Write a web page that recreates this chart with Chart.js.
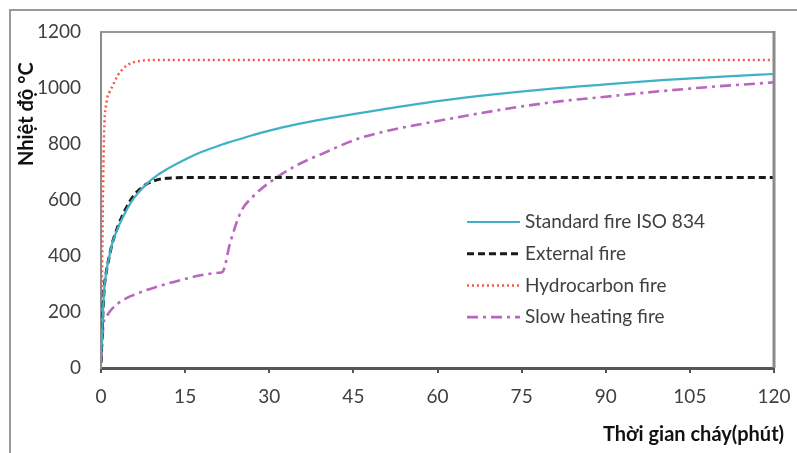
<!DOCTYPE html>
<html>
<head>
<meta charset="utf-8">
<script src="https://cdn.jsdelivr.net/npm/chart.js@4"></script>
<style>
  html, body { margin: 0; padding: 0; background: #fff; overflow: hidden; }
  #wrap { position: relative; width: 797px; height: 453px; overflow: hidden; }
  #frame { position: absolute; left: 9px; top: 9px; width: 820px; height: 480px; border: 2px solid #999; }
  canvas { position: absolute; left: 0; top: 0; }
</style>
</head>
<body>
<div id="wrap">
  <div id="frame"></div>
  <canvas id="chart" width="797" height="453"></canvas>
</div>
<script>
// thời gian (phút) và nhiệt độ
const minutes = [0, 0.5, 1, 1.5, 2, 3, 4, 5, 6, 8, 10, 12, 15, 18, 21, 21.7, 23, 25, 27, 30, 35, 40, 45, 50, 60, 70, 80, 90, 100, 110, 120];
const standardFire = [20, 260, 350, 400, 445, 500, 542, 580, 610, 655, 688, 713, 745, 772, 794, 799, 807, 819, 831, 848, 871, 890, 907, 923, 953, 977, 997, 1013, 1028, 1040, 1050];
const externalFire = [20, 263, 350, 400, 445, 505, 552, 590, 620, 655, 672, 678, 680, 680, 680, 680, 680, 680, 680, 680, 680, 680, 680, 680, 680, 680, 680, 680, 680, 680, 680];
const hydrocarbonFire = [20, 800, 950, 985, 1005, 1045, 1070, 1085, 1093, 1099, 1100, 1100, 1100, 1100, 1100, 1100, 1100, 1100, 1100, 1100, 1100, 1100, 1100, 1100, 1100, 1100, 1100, 1100, 1100, 1100, 1100];
const slowFire = [20, 165, 185, 200, 212, 230, 243, 254, 262, 278, 290, 302, 318, 332, 340, 344, 445, 560, 610, 662, 725, 770, 813, 842, 882, 918, 948, 969, 989, 1006, 1020];

const seriesNames = ['Standard fire ISO 834', 'External fire', 'Hydrocarbon fire', 'Slow heating fire'];
const xTicks = [0, 15, 30, 45, 60, 75, 90, 105, 120];
const yTicks = [0, 200, 400, 600, 800, 1000, 1200];
const yTitle = 'Nhiệt độ °C';
const xTitle = 'Thời gian cháy(phút)';

const FONT = 'Lato, "Open Sans", sans-serif';
const TEXT = '#404040';

const toPoints = arr => arr.map((v, i) => ({ x: minutes[i], y: v }));

const styles = [
  { color: '#3fb0c6', width: 2.2, dash: [] },
  { color: '#1a1a1a', width: 3, dash: [7, 4] },
  { color: '#f25a4a', width: 2.5, dash: [2, 3] },
  { color: '#b866bf', width: 2.6, dash: [11, 5, 3, 5] },
];
const values = [standardFire, externalFire, hydrocarbonFire, slowFire];

// chú thích vẽ bên trong vùng đồ thị + khung trên/phải + tiêu đề trục
const extras = {
  id: 'extras',
  afterDatasetsDraw(chart) {
    const { ctx, chartArea: a } = chart;
    ctx.save();
    // khung trên và phải
    ctx.strokeStyle = '#999';
    ctx.lineWidth = 2;
    ctx.beginPath();
    ctx.moveTo(a.left, a.top);
    ctx.lineTo(a.right, a.top);
    ctx.stroke();
    ctx.strokeStyle = '#8a8a8a';
    ctx.lineWidth = 3;
    ctx.beginPath();
    ctx.moveTo(a.right, a.top - 1);
    ctx.lineTo(a.right, a.bottom);
    ctx.stroke();

    // legend
    chart.data.datasets.forEach((ds, i) => {
      const y = 222 + i * 31.7;
      ctx.strokeStyle = ds.borderColor;
      ctx.lineWidth = ds.borderWidth;
      ctx.setLineDash(ds.borderDash || []);
      ctx.beginPath();
      ctx.moveTo(467, y);
      ctx.lineTo(520, y);
      ctx.stroke();
      ctx.setLineDash([]);
      ctx.fillStyle = TEXT;
      ctx.font = '19px ' + FONT;
      ctx.textAlign = 'left';
      ctx.textBaseline = 'middle';
      ctx.fillText(ds.label, 525, y);
    });

    // tiêu đề trục
    ctx.fillStyle = '#111';
    ctx.font = 'bold 20px ' + FONT;
    ctx.textAlign = 'left';
    ctx.textBaseline = 'middle';
    ctx.fillText(xTitle, 603, 435);
    ctx.translate(27, 166);
    ctx.rotate(-Math.PI / 2);
    ctx.fillText(yTitle, 0, 0);
    ctx.restore();
  }
};

new Chart(document.getElementById('chart'), {
  type: 'line',
  data: {
    datasets: values.map((arr, i) => ({
      label: seriesNames[i],
      data: toPoints(arr),
      borderColor: styles[i].color,
      borderWidth: styles[i].width,
      borderDash: styles[i].dash,
      pointRadius: 0,
      fill: false,
      cubicInterpolationMode: 'monotone',
    })),
  },
  options: {
    responsive: false,
    animation: false,
    layout: { padding: { left: 0, top: 32, right: 23, bottom: 0 } },
    plugins: { legend: { display: false }, tooltip: { enabled: false } },
    scales: {
      x: {
        type: 'linear',
        min: 0, max: 120,
        afterBuildTicks: s => { s.ticks = xTicks.map(v => ({ value: v })); },
        afterFit: s => { s.height = 85; s.paddingLeft = 0; s.paddingRight = 0; },
        border: { color: '#555', width: 3 },
        grid: { drawOnChartArea: false, drawTicks: true, tickLength: 5, color: '#555', lineWidth: 2 },
        ticks: { color: TEXT, font: { family: FONT, size: 19 }, padding: 12, maxRotation: 0, callback: v => String(v) },
      },
      y: {
        min: 0, max: 1200,
        afterBuildTicks: s => { s.ticks = yTicks.map(v => ({ value: v })); },
        afterFit: s => { s.width = 101; s.paddingTop = 0; s.paddingBottom = 0; },
        border: { color: '#8c8c8c', width: 2 },
        grid: { display: false, drawTicks: false },
        ticks: { color: TEXT, font: { family: FONT, size: 19 }, padding: 20, callback: v => String(v) },
      },
    },
  },
  plugins: [extras],
});
</script>
</body>
</html>
